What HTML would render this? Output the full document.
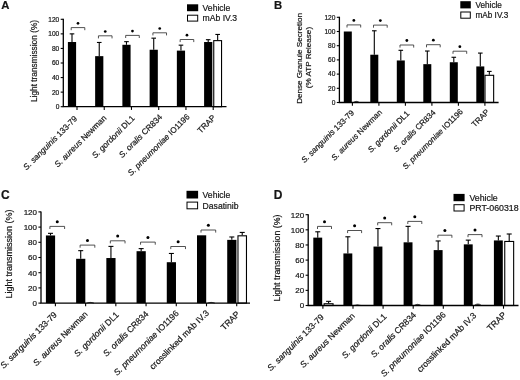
<!DOCTYPE html>
<html><head><meta charset="utf-8"><style>
html,body{margin:0;padding:0;background:#fff;width:520px;height:380px;overflow:hidden}
svg{display:block;filter:blur(0.3px)}
text{font-family:"Liberation Sans",sans-serif;fill:#151515;stroke:#151515;stroke-width:0.2px}
</style></head><body>
<svg width="520" height="380" viewBox="0 0 520 380">
<rect width="520" height="380" fill="#fff"/>
<rect x="67.9" y="42.02" width="8.2" height="64.68" fill="#000"/>
<line x1="72" y1="42.02" x2="72" y2="33.87" stroke="#000" stroke-width="1.1"/>
<line x1="69.7" y1="33.87" x2="74.3" y2="33.87" stroke="#000" stroke-width="1.1"/>
<rect x="95.14" y="56.15" width="8.2" height="50.55" fill="#000"/>
<line x1="99.24" y1="56.15" x2="99.24" y2="42.46" stroke="#000" stroke-width="1.1"/>
<line x1="96.94" y1="42.46" x2="101.54" y2="42.46" stroke="#000" stroke-width="1.1"/>
<rect x="122.38" y="44.79" width="8.2" height="61.91" fill="#000"/>
<line x1="126.48" y1="44.79" x2="126.48" y2="41.66" stroke="#000" stroke-width="1.1"/>
<line x1="124.18" y1="41.66" x2="128.78" y2="41.66" stroke="#000" stroke-width="1.1"/>
<rect x="149.62" y="49.74" width="8.2" height="56.96" fill="#000"/>
<line x1="153.72" y1="49.74" x2="153.72" y2="38.16" stroke="#000" stroke-width="1.1"/>
<line x1="151.42" y1="38.16" x2="156.02" y2="38.16" stroke="#000" stroke-width="1.1"/>
<rect x="176.86" y="50.62" width="8.2" height="56.08" fill="#000"/>
<line x1="180.96" y1="50.62" x2="180.96" y2="45.16" stroke="#000" stroke-width="1.1"/>
<line x1="178.66" y1="45.16" x2="183.26" y2="45.16" stroke="#000" stroke-width="1.1"/>
<rect x="204.1" y="42.02" width="8.2" height="64.68" fill="#000"/>
<line x1="208.2" y1="42.02" x2="208.2" y2="39.69" stroke="#000" stroke-width="1.1"/>
<line x1="205.9" y1="39.69" x2="210.5" y2="39.69" stroke="#000" stroke-width="1.1"/>
<rect x="213.75" y="40.63" width="7.8" height="66.07" fill="#fff" stroke="#000" stroke-width="1.1"/>
<line x1="217.65" y1="40.13" x2="217.65" y2="34.45" stroke="#000" stroke-width="1.1"/>
<line x1="215.35" y1="34.45" x2="219.95" y2="34.45" stroke="#000" stroke-width="1.1"/>
<path d="M71.2 30.2V27.6H84.8V30.2" fill="none" stroke="#333" stroke-width="0.85"/>
<circle cx="78" cy="23.3" r="1.35" fill="#000"/>
<path d="M98.44 38.4V35.8H112.04V38.4" fill="none" stroke="#333" stroke-width="0.85"/>
<circle cx="105.24" cy="31.5" r="1.35" fill="#000"/>
<path d="M125.68 38V35.4H139.28V38" fill="none" stroke="#333" stroke-width="0.85"/>
<circle cx="132.48" cy="31.1" r="1.35" fill="#000"/>
<path d="M152.92 35.4V32.8H166.52V35.4" fill="none" stroke="#333" stroke-width="0.85"/>
<circle cx="159.72" cy="28.5" r="1.35" fill="#000"/>
<path d="M180.16 42.1V39.5H193.76V42.1" fill="none" stroke="#333" stroke-width="0.85"/>
<circle cx="186.96" cy="35.2" r="1.35" fill="#000"/>
<path d="M63.3 18.8V106.7H226.5" fill="none" stroke="#000" stroke-width="1.3"/>
<line x1="60.7" y1="106.7" x2="63.3" y2="106.7" stroke="#000" stroke-width="1.1"/>
<text x="59.3" y="109.08" font-size="6.6" text-anchor="end">0</text>
<line x1="60.7" y1="92.13" x2="63.3" y2="92.13" stroke="#000" stroke-width="1.1"/>
<text x="59.3" y="94.51" font-size="6.6" text-anchor="end">20</text>
<line x1="60.7" y1="77.57" x2="63.3" y2="77.57" stroke="#000" stroke-width="1.1"/>
<text x="59.3" y="79.94" font-size="6.6" text-anchor="end">40</text>
<line x1="60.7" y1="63" x2="63.3" y2="63" stroke="#000" stroke-width="1.1"/>
<text x="59.3" y="65.38" font-size="6.6" text-anchor="end">60</text>
<line x1="60.7" y1="48.43" x2="63.3" y2="48.43" stroke="#000" stroke-width="1.1"/>
<text x="59.3" y="50.81" font-size="6.6" text-anchor="end">80</text>
<line x1="60.7" y1="33.87" x2="63.3" y2="33.87" stroke="#000" stroke-width="1.1"/>
<text x="59.3" y="36.24" font-size="6.6" text-anchor="end">100</text>
<line x1="60.7" y1="19.3" x2="63.3" y2="19.3" stroke="#000" stroke-width="1.1"/>
<text x="59.3" y="21.68" font-size="6.6" text-anchor="end">120</text>
<line x1="77" y1="106.7" x2="77" y2="109.9" stroke="#000" stroke-width="1.1"/>
<line x1="104.24" y1="106.7" x2="104.24" y2="109.9" stroke="#000" stroke-width="1.1"/>
<line x1="131.48" y1="106.7" x2="131.48" y2="109.9" stroke="#000" stroke-width="1.1"/>
<line x1="158.72" y1="106.7" x2="158.72" y2="109.9" stroke="#000" stroke-width="1.1"/>
<line x1="185.96" y1="106.7" x2="185.96" y2="109.9" stroke="#000" stroke-width="1.1"/>
<line x1="213.2" y1="106.7" x2="213.2" y2="109.9" stroke="#000" stroke-width="1.1"/>
<text transform="translate(77.8 119.2) rotate(-45)" text-anchor="end" font-size="8.2"><tspan font-style="italic">S. sanguinis</tspan> 133-79</text>
<text transform="translate(107.04 118.5) rotate(-45)" text-anchor="end" font-size="8.2"><tspan font-style="italic">S. aureus</tspan> Newman</text>
<text transform="translate(135.18 118.9) rotate(-45)" text-anchor="end" font-size="8.2"><tspan font-style="italic">S. gordonii</tspan> DL1</text>
<text transform="translate(162.82 117.6) rotate(-45)" text-anchor="end" font-size="8.2"><tspan font-style="italic">S. oralis</tspan> CR834</text>
<text transform="translate(190.16 117.2) rotate(-45)" text-anchor="end" font-size="8.2"><tspan font-style="italic">S. pneumoniae</tspan> IO1196</text>
<text transform="translate(216.2 118.2) rotate(-45)" text-anchor="end" font-size="8.2">TRAP</text>
<text transform="translate(37.3 61) rotate(-90)" text-anchor="middle" font-size="8.3">Light transmission (%)</text>
<rect x="187" y="4.3" width="11.2" height="6.9" fill="#000"/>
<rect x="187.5" y="15.2" width="10.2" height="5.9" fill="#fff" stroke="#000" stroke-width="1"/>
<text x="202.6" y="10.85" font-size="8.6">Vehicle</text>
<text x="202.6" y="21.25" font-size="8.6">mAb IV.3</text>
<text x="1.2" y="9.1" font-size="11.3" font-weight="bold">A</text>
<rect x="343.8" y="31.5" width="8" height="71" fill="#000"/>
<path d="M353.2 102.5Q356.4 100.2 359.6 102.5" fill="#444" stroke="#222" stroke-width="0.7"/>
<rect x="370.3" y="54.72" width="8" height="47.78" fill="#000"/>
<line x1="374.3" y1="54.72" x2="374.3" y2="30.79" stroke="#000" stroke-width="1.1"/>
<line x1="372" y1="30.79" x2="376.6" y2="30.79" stroke="#000" stroke-width="1.1"/>
<rect x="396.8" y="60.47" width="8" height="42.03" fill="#000"/>
<line x1="400.8" y1="60.47" x2="400.8" y2="50.31" stroke="#000" stroke-width="1.1"/>
<line x1="398.5" y1="50.31" x2="403.1" y2="50.31" stroke="#000" stroke-width="1.1"/>
<rect x="423.3" y="64.16" width="8" height="38.34" fill="#000"/>
<line x1="427.3" y1="64.16" x2="427.3" y2="51.02" stroke="#000" stroke-width="1.1"/>
<line x1="425" y1="51.02" x2="429.6" y2="51.02" stroke="#000" stroke-width="1.1"/>
<rect x="449.8" y="62.24" width="8" height="40.26" fill="#000"/>
<line x1="453.8" y1="62.24" x2="453.8" y2="57.27" stroke="#000" stroke-width="1.1"/>
<line x1="451.5" y1="57.27" x2="456.1" y2="57.27" stroke="#000" stroke-width="1.1"/>
<rect x="476.3" y="66.43" width="8" height="36.07" fill="#000"/>
<line x1="480.3" y1="66.43" x2="480.3" y2="53.08" stroke="#000" stroke-width="1.1"/>
<line x1="478" y1="53.08" x2="482.6" y2="53.08" stroke="#000" stroke-width="1.1"/>
<rect x="485" y="75.31" width="8.65" height="27.19" fill="#fff" stroke="#000" stroke-width="1.1"/>
<line x1="489.32" y1="74.81" x2="489.32" y2="71.4" stroke="#000" stroke-width="1.1"/>
<line x1="487.02" y1="71.4" x2="491.62" y2="71.4" stroke="#000" stroke-width="1.1"/>
<path d="M347 27.5V24.9H360.7V27.5" fill="none" stroke="#333" stroke-width="0.85"/>
<circle cx="353.85" cy="20.4" r="1.4" fill="#000"/>
<path d="M373.5 27.7V25.1H387.2V27.7" fill="none" stroke="#333" stroke-width="0.85"/>
<circle cx="380.35" cy="20.6" r="1.4" fill="#000"/>
<path d="M400 47.6V45H413.7V47.6" fill="none" stroke="#333" stroke-width="0.85"/>
<circle cx="406.85" cy="40.5" r="1.4" fill="#000"/>
<path d="M426.5 47.3V44.7H440.2V47.3" fill="none" stroke="#333" stroke-width="0.85"/>
<circle cx="433.35" cy="40.2" r="1.4" fill="#000"/>
<path d="M453 53.8V51.2H466.7V53.8" fill="none" stroke="#333" stroke-width="0.85"/>
<circle cx="459.85" cy="46.7" r="1.4" fill="#000"/>
<path d="M339.4 16.8V102.5H498.6" fill="none" stroke="#000" stroke-width="1.3"/>
<line x1="336.8" y1="102.5" x2="339.4" y2="102.5" stroke="#000" stroke-width="1.1"/>
<text x="335.4" y="104.88" font-size="6.6" text-anchor="end">0</text>
<line x1="336.8" y1="88.3" x2="339.4" y2="88.3" stroke="#000" stroke-width="1.1"/>
<text x="335.4" y="90.68" font-size="6.6" text-anchor="end">20</text>
<line x1="336.8" y1="74.1" x2="339.4" y2="74.1" stroke="#000" stroke-width="1.1"/>
<text x="335.4" y="76.48" font-size="6.6" text-anchor="end">40</text>
<line x1="336.8" y1="59.9" x2="339.4" y2="59.9" stroke="#000" stroke-width="1.1"/>
<text x="335.4" y="62.28" font-size="6.6" text-anchor="end">60</text>
<line x1="336.8" y1="45.7" x2="339.4" y2="45.7" stroke="#000" stroke-width="1.1"/>
<text x="335.4" y="48.08" font-size="6.6" text-anchor="end">80</text>
<line x1="336.8" y1="31.5" x2="339.4" y2="31.5" stroke="#000" stroke-width="1.1"/>
<text x="335.4" y="33.88" font-size="6.6" text-anchor="end">100</text>
<line x1="336.8" y1="17.3" x2="339.4" y2="17.3" stroke="#000" stroke-width="1.1"/>
<text x="335.4" y="19.68" font-size="6.6" text-anchor="end">120</text>
<line x1="352.4" y1="102.5" x2="352.4" y2="105.7" stroke="#000" stroke-width="1.1"/>
<line x1="378.9" y1="102.5" x2="378.9" y2="105.7" stroke="#000" stroke-width="1.1"/>
<line x1="405.4" y1="102.5" x2="405.4" y2="105.7" stroke="#000" stroke-width="1.1"/>
<line x1="431.9" y1="102.5" x2="431.9" y2="105.7" stroke="#000" stroke-width="1.1"/>
<line x1="458.4" y1="102.5" x2="458.4" y2="105.7" stroke="#000" stroke-width="1.1"/>
<line x1="484.9" y1="102.5" x2="484.9" y2="105.7" stroke="#000" stroke-width="1.1"/>
<text transform="translate(354.6 113.3) rotate(-45)" text-anchor="end" font-size="8"><tspan font-style="italic">S. sanguinis</tspan> 133-79</text>
<text transform="translate(382.64 112.8) rotate(-45)" text-anchor="end" font-size="8"><tspan font-style="italic">S. aureus</tspan> Newman</text>
<text transform="translate(409.88 114.1) rotate(-45)" text-anchor="end" font-size="8"><tspan font-style="italic">S. gordonii</tspan> DL1</text>
<text transform="translate(436.12 113) rotate(-45)" text-anchor="end" font-size="8"><tspan font-style="italic">S. oralis</tspan> CR834</text>
<text transform="translate(463.46 112.1) rotate(-45)" text-anchor="end" font-size="8"><tspan font-style="italic">S. pneumoniae</tspan> IO1196</text>
<text transform="translate(489.9 112.5) rotate(-45)" text-anchor="end" font-size="8">TRAP</text>
<text transform="translate(302.3 58.4) rotate(-90)" text-anchor="middle" font-size="8.1">Dense Granule Secretion</text>
<text transform="translate(311.3 57.6) rotate(-90)" text-anchor="middle" font-size="8.1">(% ATP Release)</text>
<rect x="460.3" y="1.2" width="10.5" height="7.2" fill="#000"/>
<rect x="460.8" y="12" width="9.5" height="6.2" fill="#fff" stroke="#000" stroke-width="1"/>
<text x="475.5" y="7.75" font-size="8.2">Vehicle</text>
<text x="475.5" y="18.05" font-size="8.2">mAb IV.3</text>
<text x="273.9" y="8.9" font-size="11.3" font-weight="bold">B</text>
<rect x="45.9" y="235.46" width="9.2" height="67.64" fill="#000"/>
<line x1="50.5" y1="235.46" x2="50.5" y2="233.33" stroke="#000" stroke-width="1.1"/>
<line x1="48" y1="233.33" x2="53" y2="233.33" stroke="#000" stroke-width="1.1"/>
<rect x="76.12" y="258.79" width="9.2" height="44.31" fill="#000"/>
<line x1="80.72" y1="258.79" x2="80.72" y2="250.66" stroke="#000" stroke-width="1.1"/>
<line x1="78.22" y1="250.66" x2="83.22" y2="250.66" stroke="#000" stroke-width="1.1"/>
<path d="M86.42 303.1Q90.22 301.59 94.02 303.1" fill="#444" stroke="#222" stroke-width="0.7"/>
<rect x="106.34" y="258.03" width="9.2" height="45.07" fill="#000"/>
<line x1="110.94" y1="258.03" x2="110.94" y2="246.4" stroke="#000" stroke-width="1.1"/>
<line x1="108.44" y1="246.4" x2="113.44" y2="246.4" stroke="#000" stroke-width="1.1"/>
<rect x="136.56" y="251.19" width="9.2" height="51.91" fill="#000"/>
<line x1="141.16" y1="251.19" x2="141.16" y2="248.61" stroke="#000" stroke-width="1.1"/>
<line x1="138.66" y1="248.61" x2="143.66" y2="248.61" stroke="#000" stroke-width="1.1"/>
<rect x="166.78" y="262.21" width="9.2" height="40.89" fill="#000"/>
<line x1="171.38" y1="262.21" x2="171.38" y2="253.47" stroke="#000" stroke-width="1.1"/>
<line x1="168.88" y1="253.47" x2="173.88" y2="253.47" stroke="#000" stroke-width="1.1"/>
<rect x="197" y="235.31" width="9.2" height="67.79" fill="#000"/>
<path d="M207.3 303.1Q211.1 301.59 214.9 303.1" fill="#444" stroke="#222" stroke-width="0.7"/>
<rect x="227.22" y="239.87" width="9.2" height="63.23" fill="#000"/>
<line x1="231.82" y1="239.87" x2="231.82" y2="236.98" stroke="#000" stroke-width="1.1"/>
<line x1="229.32" y1="236.98" x2="234.32" y2="236.98" stroke="#000" stroke-width="1.1"/>
<rect x="237.97" y="235.81" width="8.5" height="67.29" fill="#fff" stroke="#000" stroke-width="1.1"/>
<line x1="242.22" y1="235.31" x2="242.22" y2="232.42" stroke="#000" stroke-width="1.1"/>
<line x1="239.72" y1="232.42" x2="244.72" y2="232.42" stroke="#000" stroke-width="1.1"/>
<path d="M49.9 229V226.4H64.6V229" fill="none" stroke="#333" stroke-width="0.85"/>
<circle cx="57.25" cy="221.7" r="1.5" fill="#000"/>
<path d="M80.12 247.7V245.1H94.82V247.7" fill="none" stroke="#333" stroke-width="0.85"/>
<circle cx="87.47" cy="240.4" r="1.5" fill="#000"/>
<path d="M110.34 243.4V240.8H125.04V243.4" fill="none" stroke="#333" stroke-width="0.85"/>
<circle cx="117.69" cy="236.1" r="1.5" fill="#000"/>
<path d="M140.56 244.7V242.1H155.26V244.7" fill="none" stroke="#333" stroke-width="0.85"/>
<circle cx="147.91" cy="237.4" r="1.5" fill="#000"/>
<path d="M170.78 249.1V246.5H185.48V249.1" fill="none" stroke="#333" stroke-width="0.85"/>
<circle cx="178.13" cy="241.8" r="1.5" fill="#000"/>
<path d="M201 232.6V230H215.7V232.6" fill="none" stroke="#333" stroke-width="0.85"/>
<circle cx="208.35" cy="225.3" r="1.5" fill="#000"/>
<path d="M41 211.4V303.1H250" fill="none" stroke="#000" stroke-width="1.3"/>
<line x1="38.4" y1="303.1" x2="41" y2="303.1" stroke="#000" stroke-width="1.1"/>
<text x="37" y="305.98" font-size="8" text-anchor="end">0</text>
<line x1="38.4" y1="287.9" x2="41" y2="287.9" stroke="#000" stroke-width="1.1"/>
<text x="37" y="290.78" font-size="8" text-anchor="end">20</text>
<line x1="38.4" y1="272.7" x2="41" y2="272.7" stroke="#000" stroke-width="1.1"/>
<text x="37" y="275.58" font-size="8" text-anchor="end">40</text>
<line x1="38.4" y1="257.5" x2="41" y2="257.5" stroke="#000" stroke-width="1.1"/>
<text x="37" y="260.38" font-size="8" text-anchor="end">60</text>
<line x1="38.4" y1="242.3" x2="41" y2="242.3" stroke="#000" stroke-width="1.1"/>
<text x="37" y="245.18" font-size="8" text-anchor="end">80</text>
<line x1="38.4" y1="227.1" x2="41" y2="227.1" stroke="#000" stroke-width="1.1"/>
<text x="37" y="229.98" font-size="8" text-anchor="end">100</text>
<line x1="38.4" y1="211.9" x2="41" y2="211.9" stroke="#000" stroke-width="1.1"/>
<text x="37" y="214.78" font-size="8" text-anchor="end">120</text>
<line x1="55.4" y1="303.1" x2="55.4" y2="306.3" stroke="#000" stroke-width="1.1"/>
<line x1="85.62" y1="303.1" x2="85.62" y2="306.3" stroke="#000" stroke-width="1.1"/>
<line x1="115.84" y1="303.1" x2="115.84" y2="306.3" stroke="#000" stroke-width="1.1"/>
<line x1="146.06" y1="303.1" x2="146.06" y2="306.3" stroke="#000" stroke-width="1.1"/>
<line x1="176.28" y1="303.1" x2="176.28" y2="306.3" stroke="#000" stroke-width="1.1"/>
<line x1="206.5" y1="303.1" x2="206.5" y2="306.3" stroke="#000" stroke-width="1.1"/>
<line x1="236.72" y1="303.1" x2="236.72" y2="306.3" stroke="#000" stroke-width="1.1"/>
<text transform="translate(57.5 315.3) rotate(-45)" text-anchor="end" font-size="8.6"><tspan font-style="italic">S. sanguinis</tspan> 133-79</text>
<text transform="translate(88.2 314.8) rotate(-45)" text-anchor="end" font-size="8.6"><tspan font-style="italic">S. aureus</tspan> Newman</text>
<text transform="translate(119.4 315.3) rotate(-45)" text-anchor="end" font-size="8.6"><tspan font-style="italic">S. gordonii</tspan> DL1</text>
<text transform="translate(149.1 314.5) rotate(-45)" text-anchor="end" font-size="8.6"><tspan font-style="italic">S. oralis</tspan> CR834</text>
<text transform="translate(179.3 313.9) rotate(-45)" text-anchor="end" font-size="8.6"><tspan font-style="italic">S. pneumoniae</tspan> IO1196</text>
<text transform="translate(209.6 313.5) rotate(-45)" text-anchor="end" font-size="8.6">crosslinked mAb IV.3</text>
<text transform="translate(240.4 314.6) rotate(-45)" text-anchor="end" font-size="8.6">TRAP</text>
<text transform="translate(12 254) rotate(-90)" text-anchor="middle" font-size="9">Light transmission (%)</text>
<rect x="186.5" y="190.8" width="11.6" height="7.7" fill="#000"/>
<rect x="187" y="202.1" width="10.6" height="6.7" fill="#fff" stroke="#000" stroke-width="1"/>
<text x="202.6" y="197.75" font-size="8.6">Vehicle</text>
<text x="202.6" y="208.55" font-size="8.6">Dasatinib</text>
<text x="1" y="198.8" font-size="12" font-weight="bold">C</text>
<rect x="313.3" y="237.63" width="8.9" height="67.87" fill="#000"/>
<line x1="317.75" y1="237.63" x2="317.75" y2="231.8" stroke="#000" stroke-width="1.1"/>
<line x1="315.25" y1="231.8" x2="320.25" y2="231.8" stroke="#000" stroke-width="1.1"/>
<rect x="324.15" y="303.73" width="8.9" height="1.77" fill="#fff" stroke="#000" stroke-width="1.1"/>
<line x1="328.6" y1="303.23" x2="328.6" y2="301.34" stroke="#000" stroke-width="1.1"/>
<line x1="326.1" y1="301.34" x2="331.1" y2="301.34" stroke="#000" stroke-width="1.1"/>
<rect x="343.4" y="253.44" width="8.9" height="52.06" fill="#000"/>
<line x1="347.85" y1="253.44" x2="347.85" y2="236.79" stroke="#000" stroke-width="1.1"/>
<line x1="345.35" y1="236.79" x2="350.35" y2="236.79" stroke="#000" stroke-width="1.1"/>
<path d="M353.8 305.5Q357.45 304.17 361.1 305.5" fill="#444" stroke="#222" stroke-width="0.7"/>
<rect x="373.5" y="246.56" width="8.9" height="58.94" fill="#000"/>
<line x1="377.95" y1="246.56" x2="377.95" y2="228.55" stroke="#000" stroke-width="1.1"/>
<line x1="375.45" y1="228.55" x2="380.45" y2="228.55" stroke="#000" stroke-width="1.1"/>
<rect x="403.6" y="242.32" width="8.9" height="63.18" fill="#000"/>
<line x1="408.05" y1="242.32" x2="408.05" y2="226.35" stroke="#000" stroke-width="1.1"/>
<line x1="405.55" y1="226.35" x2="410.55" y2="226.35" stroke="#000" stroke-width="1.1"/>
<path d="M414 305.5Q417.65 303.08 421.3 305.5" fill="#444" stroke="#222" stroke-width="0.7"/>
<rect x="433.7" y="250.11" width="8.9" height="55.39" fill="#000"/>
<line x1="438.15" y1="250.11" x2="438.15" y2="240.96" stroke="#000" stroke-width="1.1"/>
<line x1="435.65" y1="240.96" x2="440.65" y2="240.96" stroke="#000" stroke-width="1.1"/>
<rect x="463.8" y="244.36" width="8.9" height="61.14" fill="#000"/>
<line x1="468.25" y1="244.36" x2="468.25" y2="240.12" stroke="#000" stroke-width="1.1"/>
<line x1="465.75" y1="240.12" x2="470.75" y2="240.12" stroke="#000" stroke-width="1.1"/>
<path d="M474.2 305.5Q477.85 302.36 481.5 305.5" fill="#444" stroke="#222" stroke-width="0.7"/>
<rect x="493.9" y="240.43" width="8.9" height="65.07" fill="#000"/>
<line x1="498.35" y1="240.43" x2="498.35" y2="236.04" stroke="#000" stroke-width="1.1"/>
<line x1="495.85" y1="236.04" x2="500.85" y2="236.04" stroke="#000" stroke-width="1.1"/>
<rect x="504.75" y="241.46" width="8.9" height="64.04" fill="#fff" stroke="#000" stroke-width="1.1"/>
<line x1="509.2" y1="240.96" x2="509.2" y2="234" stroke="#000" stroke-width="1.1"/>
<line x1="506.7" y1="234" x2="511.7" y2="234" stroke="#000" stroke-width="1.1"/>
<path d="M317.5 229V226.4H331.5V229" fill="none" stroke="#333" stroke-width="0.85"/>
<circle cx="324.5" cy="221.7" r="1.5" fill="#000"/>
<path d="M347.6 233.1V230.5H361.6V233.1" fill="none" stroke="#333" stroke-width="0.85"/>
<circle cx="354.6" cy="225.8" r="1.5" fill="#000"/>
<path d="M377.7 225.3V222.7H391.7V225.3" fill="none" stroke="#333" stroke-width="0.85"/>
<circle cx="384.7" cy="218" r="1.5" fill="#000"/>
<path d="M407.8 224V221.4H421.8V224" fill="none" stroke="#333" stroke-width="0.85"/>
<circle cx="414.8" cy="216.7" r="1.5" fill="#000"/>
<path d="M437.9 237.8V235.2H451.9V237.8" fill="none" stroke="#333" stroke-width="0.85"/>
<circle cx="444.9" cy="230.5" r="1.5" fill="#000"/>
<path d="M468 237.2V234.6H482V237.2" fill="none" stroke="#333" stroke-width="0.85"/>
<circle cx="475" cy="229.9" r="1.5" fill="#000"/>
<path d="M308.2 214.2V305.5H518.5" fill="none" stroke="#000" stroke-width="1.3"/>
<line x1="305.6" y1="305.5" x2="308.2" y2="305.5" stroke="#000" stroke-width="1.1"/>
<text x="304.2" y="308.38" font-size="8" text-anchor="end">0</text>
<line x1="305.6" y1="290.37" x2="308.2" y2="290.37" stroke="#000" stroke-width="1.1"/>
<text x="304.2" y="293.25" font-size="8" text-anchor="end">20</text>
<line x1="305.6" y1="275.23" x2="308.2" y2="275.23" stroke="#000" stroke-width="1.1"/>
<text x="304.2" y="278.11" font-size="8" text-anchor="end">40</text>
<line x1="305.6" y1="260.1" x2="308.2" y2="260.1" stroke="#000" stroke-width="1.1"/>
<text x="304.2" y="262.98" font-size="8" text-anchor="end">60</text>
<line x1="305.6" y1="244.97" x2="308.2" y2="244.97" stroke="#000" stroke-width="1.1"/>
<text x="304.2" y="247.85" font-size="8" text-anchor="end">80</text>
<line x1="305.6" y1="229.83" x2="308.2" y2="229.83" stroke="#000" stroke-width="1.1"/>
<text x="304.2" y="232.71" font-size="8" text-anchor="end">100</text>
<line x1="305.6" y1="214.7" x2="308.2" y2="214.7" stroke="#000" stroke-width="1.1"/>
<text x="304.2" y="217.58" font-size="8" text-anchor="end">120</text>
<line x1="322.9" y1="305.5" x2="322.9" y2="308.7" stroke="#000" stroke-width="1.1"/>
<line x1="353" y1="305.5" x2="353" y2="308.7" stroke="#000" stroke-width="1.1"/>
<line x1="383.1" y1="305.5" x2="383.1" y2="308.7" stroke="#000" stroke-width="1.1"/>
<line x1="413.2" y1="305.5" x2="413.2" y2="308.7" stroke="#000" stroke-width="1.1"/>
<line x1="443.3" y1="305.5" x2="443.3" y2="308.7" stroke="#000" stroke-width="1.1"/>
<line x1="473.4" y1="305.5" x2="473.4" y2="308.7" stroke="#000" stroke-width="1.1"/>
<line x1="503.5" y1="305.5" x2="503.5" y2="308.7" stroke="#000" stroke-width="1.1"/>
<text transform="translate(324.5 317.7) rotate(-45)" text-anchor="end" font-size="8.6"><tspan font-style="italic">S. sanguinis</tspan> 133-79</text>
<text transform="translate(355.28 316.5) rotate(-45)" text-anchor="end" font-size="8.6"><tspan font-style="italic">S. aureus</tspan> Newman</text>
<text transform="translate(387.06 317) rotate(-45)" text-anchor="end" font-size="8.6"><tspan font-style="italic">S. gordonii</tspan> DL1</text>
<text transform="translate(416.74 315.5) rotate(-45)" text-anchor="end" font-size="8.6"><tspan font-style="italic">S. oralis</tspan> CR834</text>
<text transform="translate(446.32 315.3) rotate(-45)" text-anchor="end" font-size="8.6"><tspan font-style="italic">S. pneumoniae</tspan> IO1196</text>
<text transform="translate(476.9 316.2) rotate(-45)" text-anchor="end" font-size="8.6">crosslinked mAb IV.3</text>
<text transform="translate(506.78 315.4) rotate(-45)" text-anchor="end" font-size="8.6">TRAP</text>
<text transform="translate(279.7 258) rotate(-90)" text-anchor="middle" font-size="8.8">Light transmission (%)</text>
<rect x="453.5" y="193.9" width="11.1" height="7.3" fill="#000"/>
<rect x="454" y="204.7" width="10.1" height="6.3" fill="#fff" stroke="#000" stroke-width="1"/>
<text x="469.4" y="200.72" font-size="8.8">Vehicle</text>
<text x="469.4" y="211.02" font-size="8.8">PRT-060318</text>
<text x="273.8" y="198.8" font-size="12" font-weight="bold">D</text>
</svg>
</body></html>
